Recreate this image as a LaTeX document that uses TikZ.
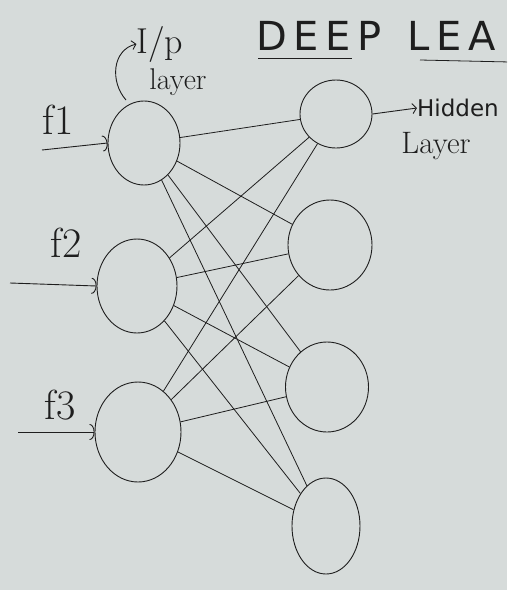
\documentclass[tikz,border=0pt]{standalone}
\usepackage{fontspec}
\setsansfont{DejaVu Sans}
\usetikzlibrary{shapes.geometric,arrows.meta}
\definecolor{board}{RGB}{214,219,218}
\definecolor{ink}{RGB}{30,30,30}
\tikzset{
  neuron/.style={ellipse,draw=ink,line width=0.9pt,inner sep=0pt},
  wire/.style={draw=ink,line width=0.8pt},
  feed/.style={draw=ink,line width=0.9pt,-{Arc Barb[length=5pt,width=16pt]}},
  hand/.style={text=ink,inner sep=0pt},
}
\begin{document}
\begin{tikzpicture}[x=1pt,y=-1pt]
\fill[board] (0,0) rectangle (507,590);
\useasboundingbox (0,0) rectangle (507,590);
\begin{scope}
\clip (0,0) rectangle (507,590);
% title
\node[hand,anchor=base west,font=\sffamily\fontsize{40}{40}\selectfont] (title) at (256,50) {D\,E\,E\,P\ \ L\,E\,A};
\coordinate (u1a) at (258,58); \coordinate (u1b) at (352,58);
\coordinate (u2a) at (420,60); \coordinate (u2b) at (510,62);
\draw[ink,line width=0.8pt] (u1a) -- (u1b);
\draw[ink,line width=0.8pt] (u2a) -- (u2b);
\end{scope}
% input layer
\node[neuron,minimum width=72pt,minimum height=84pt] (i1) at (144,143) {};
\node[neuron,minimum width=80pt,minimum height=94pt] (i2) at (137,286) {};
\node[neuron,minimum width=86pt,minimum height=100pt] (i3) at (138,432) {};
% hidden layer
\node[neuron,minimum width=72pt,minimum height=68pt] (h1) at (336,114) {};
\node[neuron,minimum width=84pt,minimum height=90pt] (h2) at (330,245) {};
\node[neuron,minimum width=83pt,minimum height=90pt] (h3) at (327,387) {};
\node[neuron,minimum width=68pt,minimum height=96pt] (h4) at (326,526) {};
% connections
\foreach \i in {1,2,3}{
  \foreach \h in {1,2,3,4}{
    \draw[wire] (i\i) -- (h\h);
  }
}
% inputs
\coordinate (s1) at (42,150);
\coordinate (s2) at (10,283);
\coordinate (s3) at (18,432);
\draw[feed] (s1) -- (i1.west);
\draw[feed] (s2) -- (i2.west);
\draw[feed] (s3) -- (i3.west);
\node[hand,font=\fontsize{42}{42}\selectfont] (f1) at (58,120) {f1};
\node[hand,font=\fontsize{42}{42}\selectfont] (f2) at (66,243) {f2};
\node[hand,font=\fontsize{42}{42}\selectfont] (f3) at (60,405) {f3};
% labels
\node[hand,font=\fontsize{36}{36}\selectfont] (ip) at (160,44) {I/p};
\node[hand,font=\fontsize{30}{30}\selectfont] (il) at (178,82) {layer};
\coordinate (ca) at (126,100);
\draw[ink,line width=0.9pt,-{Straight Barb[length=4pt,width=9pt]}] (ca) .. controls (110,82) and (112,50) .. (ip.west);
\node[hand,font=\sffamily\fontsize{23}{23}\selectfont] (hid) at (458,108) {Hidden};
\node[hand,font=\fontsize{31}{31}\selectfont] (hl) at (436,146) {Layer};
\draw[ink,line width=0.9pt,-{Straight Barb[length=4pt,width=10pt]}] (h1.east) -- (hid.west);
\end{tikzpicture}
\end{document}
